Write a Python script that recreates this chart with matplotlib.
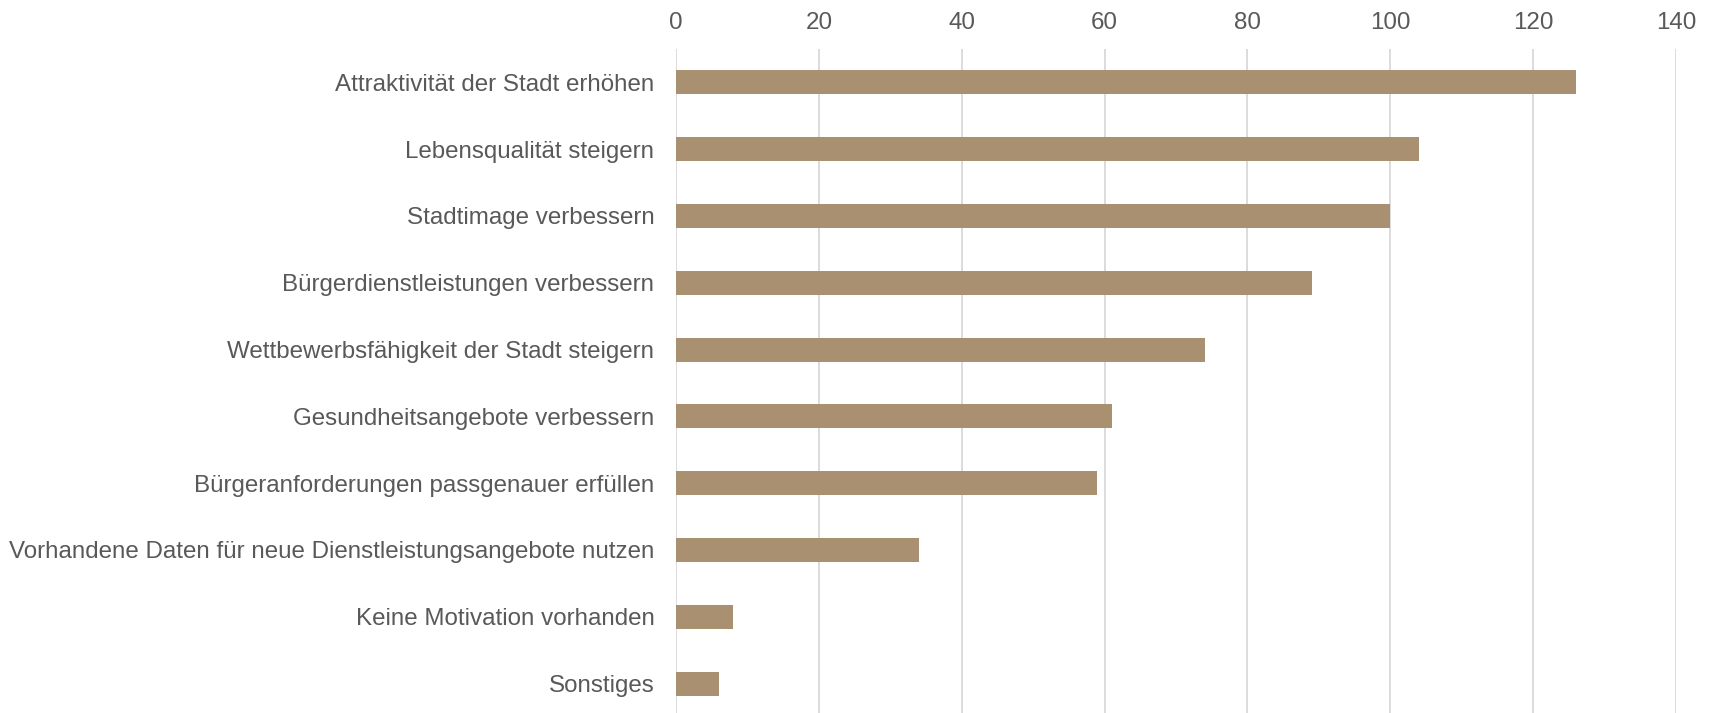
import matplotlib.pyplot as plt

plt.rcParams['font.family'] = ['Liberation Sans', 'DejaVu Sans']

kategorien = [
    "Attraktivität der Stadt erhöhen",
    "Lebensqualität steigern",
    "Stadtimage verbessern",
    "Bürgerdienstleistungen verbessern",
    "Wettbewerbsfähigkeit der Stadt steigern",
    "Gesundheitsangebote verbessern",
    "Bürgeranforderungen passgenauer erfüllen",
    "Vorhandene Daten für neue Dienstleistungsangebote nutzen",
    "Keine Motivation vorhanden",
    "Sonstiges",
]
werte = [126, 104, 100, 89, 74, 61, 59, 34, 8, 6]
x_ticks = [0, 20, 40, 60, 80, 100, 120, 140]

fig = plt.figure(figsize=(17.13, 7.13), dpi=100)
ax = fig.add_axes([0.3946, -0.0056, 0.5838, 0.9369])

pos = list(range(len(kategorien)))
ax.barh(pos, werte, height=0.36, color="#a89070", zorder=3)

ax.set_ylim(len(kategorien) - 0.5, -0.5)
ax.set_xlim(0, 140)
ax.set_xticks(x_ticks)
ax.set_yticks(pos)
ax.set_yticklabels(kategorien)

ax.xaxis.tick_top()
ax.tick_params(axis="x", length=0, pad=11, labelsize=17.4, colors="#595959")
ax.tick_params(axis="y", length=0, pad=15.5, labelsize=17.4, colors="#595959")
ax.grid(axis="x", color="#d9d9d9", linewidth=1.3, zorder=0)
for s in ax.spines.values():
    s.set_visible(False)

fig.savefig("out.png", dpi=100)
